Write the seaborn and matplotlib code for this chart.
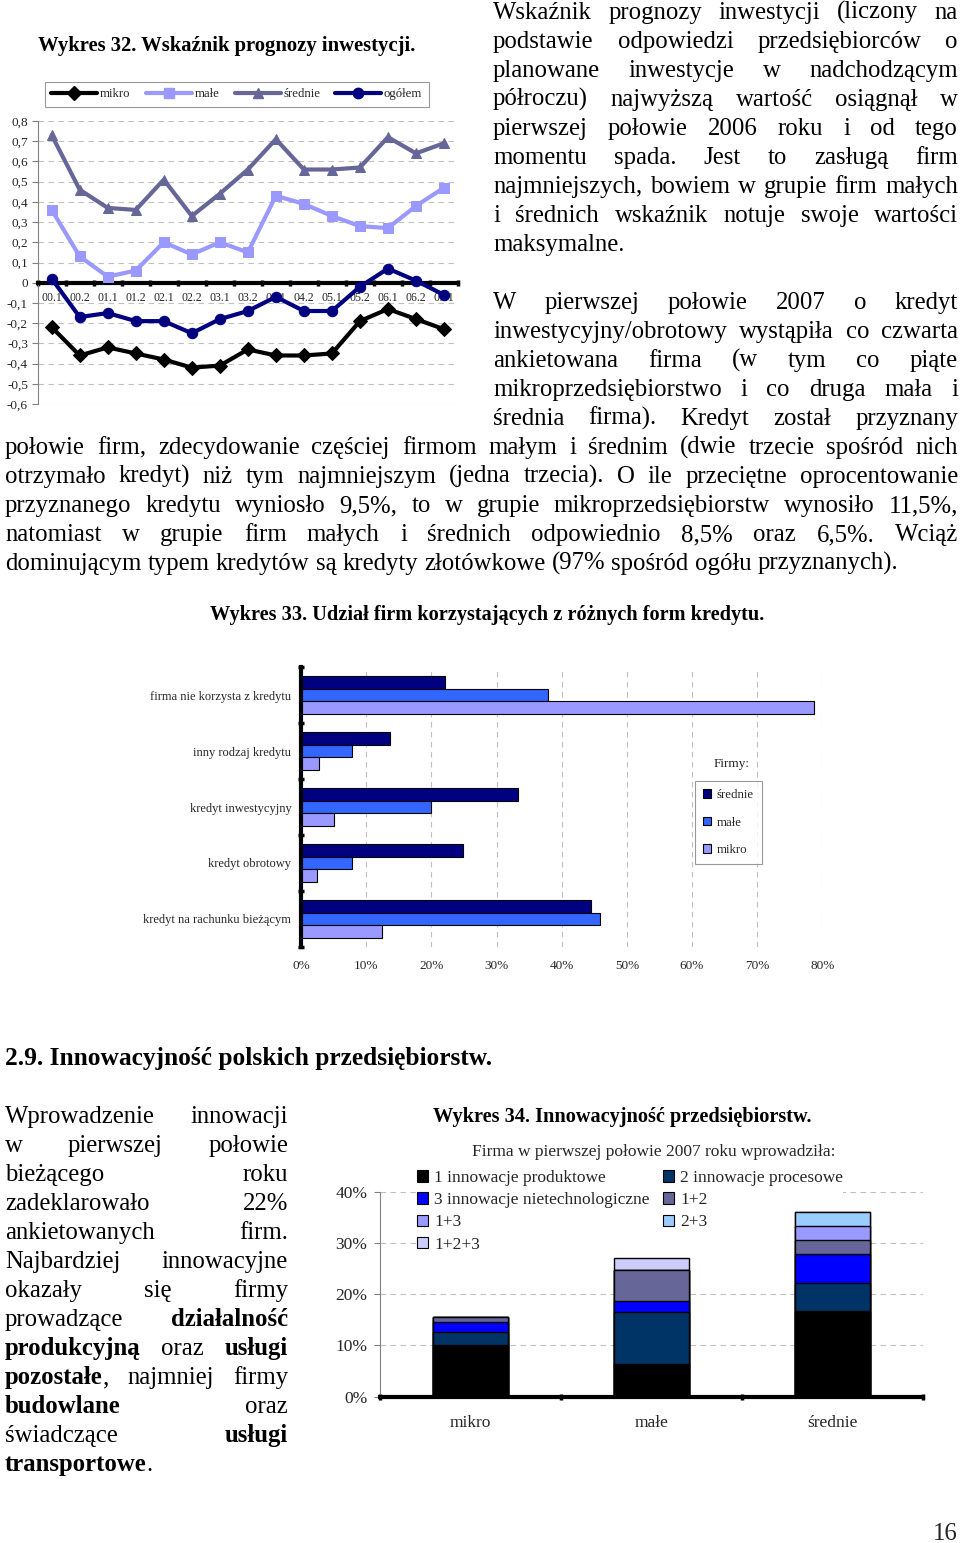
import numpy as np
import pandas as pd
import matplotlib
matplotlib.use('Agg')
import matplotlib.pyplot as plt
import seaborn as sns
from matplotlib.lines import Line2D
from matplotlib.patches import Patch

sns.set_theme(style='white')
SERIF = ['Liberation Serif', 'DejaVu Serif']
plt.rcParams['font.family'] = SERIF
plt.rcParams['axes.unicode_minus'] = False

# ---------------- data: Wykres 32 ----------------
okresy = ['00.1', '00.2', '01.1', '01.2', '02.1', '02.2', '03.1', '03.2',
          '04.1', '04.2', '05.1', '05.2', '06.1', '06.2', '07.1']
mikro = [-0.22, -0.36, -0.32, -0.35, -0.38, -0.42, -0.41, -0.33, -0.36, -0.36, -0.35, -0.19, -0.13, -0.18, -0.23]
male = [0.36, 0.13, 0.03, 0.06, 0.20, 0.14, 0.20, 0.15, 0.43, 0.39, 0.33, 0.28, 0.27, 0.38, 0.47]
srednie = [0.73, 0.46, 0.37, 0.36, 0.51, 0.33, 0.44, 0.56, 0.71, 0.56, 0.56, 0.57, 0.72, 0.64, 0.69]
ogolem = [0.02, -0.17, -0.15, -0.19, -0.19, -0.25, -0.18, -0.14, -0.07, -0.14, -0.14, -0.02, 0.07, 0.01, -0.06]
y_ticks1 = [-0.6, -0.5, -0.4, -0.3, -0.2, -0.1, 0.0, 0.1, 0.2, 0.3, 0.4, 0.5, 0.6, 0.7, 0.8]

# ---------------- data: Wykres 33 ----------------
kategorie = ['firma nie korzysta z kredytu', 'inny rodzaj kredytu', 'kredyt inwestycyjny',
             'kredyt obrotowy', 'kredyt na rachunku bieżącym']
kr_srednie = [22.1, 13.7, 33.3, 24.9, 44.5]
kr_male = [37.9, 7.8, 19.9, 7.8, 45.9]
kr_mikro = [78.7, 2.7, 5.1, 2.5, 12.4]
x_ticks2 = [0, 10, 20, 30, 40, 50, 60, 70, 80]

# ---------------- data: Wykres 34 ----------------
grupy = ['mikro', 'małe', 'średnie']
rodzaje = ['1 innowacje produktowe', '2 innowacje procesowe', '3 innowacje nietechnologiczne',
           '1+2', '1+3', '2+3', '1+2+3']
inn_1 = [10.1, 6.3, 16.7]
inn_2 = [2.6, 10.2, 5.5]
inn_3 = [1.9, 2.2, 5.6]
inn_12 = [0.9, 6.1, 2.8]
inn_13 = [0.0, 0.0, 2.7]
inn_23 = [0.0, 0.0, 2.7]
inn_123 = [0.0, 2.3, 0.0]
y_ticks3 = [0, 10, 20, 30, 40]

# ---------------- text ----------------
para1 = [
    "Wskaźnik prognozy inwestycji (liczony na",
    "podstawie odpowiedzi przedsiębiorców o",
    "planowane inwestycje w nadchodzącym",
    "półroczu) najwyższą wartość osiągnął w",
    "pierwszej połowie 2006 roku i od tego",
    "momentu spada. Jest to zasługą firm",
    "najmniejszych, bowiem w grupie firm małych",
    "i średnich wskaźnik notuje swoje wartości",
    "maksymalne.",
]
para2a = [
    "W pierwszej połowie 2007 o kredyt",
    "inwestycyjny/obrotowy wystąpiła co czwarta",
    "ankietowana firma (w tym co piąte",
    "mikroprzedsiębiorstwo i co druga mała i",
    "średnia firma). Kredyt został przyznany",
]
para2b = [
    "połowie firm, zdecydowanie częściej firmom małym i średnim (dwie trzecie spośród nich",
    "otrzymało kredyt) niż tym najmniejszym (jedna trzecia). O ile przeciętne oprocentowanie",
    "przyznanego kredytu wyniosło 9,5%, to w grupie mikroprzedsiębiorstw wynosiło 11,5%,",
    "natomiast w grupie firm małych i średnich odpowiednio 8,5% oraz 6,5%. Wciąż",
    "dominującym typem kredytów są kredyty złotówkowe (97% spośród ogółu przyznanych).",
]
para3 = [
    "Wprowadzenie innowacji",
    "w pierwszej połowie",
    "bieżącego roku",
    "zadeklarowało 22%",
    "ankietowanych firm.",
    "Najbardziej innowacyjne",
    "okazały się firmy",
    "prowadzące *działalność",
    "*produkcyjną oraz *usługi",
    "*pozostałe|, najmniej firmy",
    "*budowlane oraz",
    "świadczące *usługi",
    "*transportowe|.",
]

# ---------------- figure ----------------
W, H = 960, 1543
fig = plt.figure(figsize=(W / 100, H / 100), dpi=100)
fig.patch.set_facecolor('white')
renderer = fig.canvas.get_renderer()


def fx(x):
    return x / W


def fy(y):
    return 1 - y / H


def add_ax(x0, y0, x1, y1):
    return fig.add_axes([fx(x0), fy(y1), fx(x1) - fx(x0), fy(y0) - fy(y1)])


def measure(s, size, weight='normal'):
    t = fig.text(0, 0, s, fontsize=size, fontweight=weight)
    w = t.get_window_extent(renderer).width
    t.remove()
    return w


BODY = 17.8
BASE = 7


def parse_word(w):
    segs = []
    for part in w.split('|'):
        if part.startswith('*'):
            segs.append((part[1:], 'bold'))
        else:
            segs.append((part, 'normal'))
    return segs


def draw_line(line, x0, x1, yc, size, justify=True):
    words = [parse_word(w) for w in line.split(' ')]
    widths = [[measure(s, size, wt) for s, wt in segs] for segs in words]
    totals = [sum(ws) for ws in widths]
    space = 0.25 * size * 100 / 72
    if justify and len(words) > 1:
        gap = (x1 - x0 - sum(totals)) / (len(words) - 1)
        gap = max(gap, 0.5 * space)
    else:
        gap = space
    x = x0
    for segs, ws in zip(words, widths):
        for (s, wt), w in zip(segs, ws):
            fig.text(fx(x), fy(yc + BASE), s, fontsize=size, fontweight=wt,
                     ha='left', va='baseline', color='black')
            x += w
        x += gap


def draw_para(lines, x0, x1, y_start, pitch=29, last_justified=False, size=BODY):
    for i, ln in enumerate(lines):
        last = (i == len(lines) - 1)
        draw_line(ln, x0, x1, y_start + i * pitch, size, justify=(not last) or last_justified)


def fit_text(s, x0, x1, yc, size, weight='bold', off=6):
    w = measure(s, size, weight)
    r = min(max((x1 - x0) / w, 0.85), 1.15)
    fig.text(fx(x0), fy(yc + off), s, fontsize=size * r, fontweight=weight,
             ha='left', va='baseline', color='black')


# ---------------- body text ----------------
draw_para(para1, 493, 958, 12)
for i, ln in enumerate(para2a):
    draw_line(ln, 493, 958, 302 + i * 29, BODY, justify=True)
draw_para(para2b, 5, 958, 447)
draw_para(para3, 5, 288, 1116)
fit_text("2.9. Innowacyjność polskich przedsiębiorstw.", 5, 490, 1058, 19, 'bold', off=7)
fig.text(fx(958), fy(1540), '16', fontsize=BODY, ha='right', va='baseline')

# ---------------- Wykres 32 ----------------
fit_text("Wykres 32. Wskaźnik prognozy inwestycji.", 38, 418, 45, 14, 'bold')
ax1 = add_ax(37.7, 121, 458, 404)
df1 = pd.DataFrame({'idx': range(len(okresy)), 'mikro': mikro, 'małe': male,
                    'średnie': srednie, 'ogółem': ogolem})
long1 = df1.melt(id_vars='idx', var_name='grupa', value_name='wartosc')
pal1 = {'mikro': '#000000', 'małe': '#9999FF', 'średnie': '#666699', 'ogółem': '#000080'}
mk1 = {'mikro': 'D', 'małe': 's', 'średnie': '^', 'ogółem': 'o'}
sns.lineplot(data=long1, x='idx', y='wartosc', hue='grupa', style='grupa', palette=pal1,
             markers=mk1, dashes=False, linewidth=3, markersize=7.5, legend=False, ax=ax1, zorder=3)
for ln in ax1.lines:
    ln.set_markeredgecolor(ln.get_color())
    ln.set_zorder(3)
ax1.set_xlim(-0.5, 14.5)
ax1.set_ylim(-0.6, 0.8)
ax1.set_xlabel('')
ax1.set_ylabel('')
ax1.spines['top'].set_visible(False)
ax1.spines['right'].set_visible(False)
ax1.spines['bottom'].set_position(('data', 0))
ax1.spines['bottom'].set_linewidth(3)
ax1.spines['bottom'].set_color('black')
ax1.spines['bottom'].set_zorder(2.5)
ax1.spines['left'].set_color('#808080')
ax1.spines['left'].set_linewidth(0.8)
ax1.set_xticks(range(len(okresy)))
ax1.set_xticklabels(okresy, fontsize=8.5)
ax1.set_xticks(np.arange(-0.5, len(okresy), 1), minor=True)
ax1.tick_params(axis='x', which='major', bottom=True, length=0, pad=6.5)
ax1.tick_params(axis='x', which='minor', bottom=True, length=5, width=2.5, direction='inout', color='black')
ax1.set_yticks(y_ticks1)
ax1.set_yticklabels(['0' if v == 0 else f"{v:.1f}".replace('.', ',') for v in y_ticks1], fontsize=9.5)
ax1.tick_params(axis='y', left=True, length=4, width=0.8, color='#808080', pad=3)
ax1.yaxis.grid(True, color='#c0c0c0', linestyle=(0, (5, 4)), linewidth=0.8)
ax1.set_axisbelow(True)
h1 = [Line2D([], [], color=pal1[g], marker=mk1[g], lw=3, markersize=7.5, mec=pal1[g]) for g in pal1]
leg1 = fig.legend(h1, list(pal1.keys()), loc='upper left', bbox_to_anchor=(fx(45), fy(82)), ncol=4,
                  frameon=True, fancybox=False, edgecolor='#808080', fontsize=9.2, handlelength=3.6,
                  handletextpad=0.2, columnspacing=1.2, borderpad=0.5, borderaxespad=0)
leg1.get_frame().set_linewidth(0.8)

# ---------------- Wykres 33 ----------------
fit_text("Wykres 33. Udział firm korzystających z różnych form kredytu.", 210, 762, 614, 14, 'bold')
ax2 = add_ax(301, 667, 822.4, 947)
df2 = pd.DataFrame({'kategoria': kategorie, 'średnie': kr_srednie, 'małe': kr_male,
                    'mikro': kr_mikro}).melt(id_vars='kategoria', var_name='grupa', value_name='udzial')
pal2 = {'średnie': '#000080', 'małe': '#3366FF', 'mikro': '#9999FF'}
sns.barplot(data=df2, y='kategoria', x='udzial', hue='grupa', hue_order=list(pal2.keys()),
            order=kategorie, orient='h', palette=pal2, saturation=1, width=0.68, gap=0,
            edgecolor='black', linewidth=0.8, errorbar=None, legend=False, ax=ax2)
ax2.set_xlim(0, 80)
ax2.set_ylim(len(kategorie) - 0.5, -0.5)
ax2.set_xlabel('')
ax2.set_ylabel('')
for s in ['top', 'right', 'bottom']:
    ax2.spines[s].set_visible(False)
ax2.spines['left'].set_linewidth(3)
ax2.spines['left'].set_color('black')
ax2.set_xticks(x_ticks2)
ax2.set_xticklabels([f"{v}%" for v in x_ticks2], fontsize=9.5)
ax2.tick_params(axis='x', bottom=False, length=0, pad=9.5)
ax2.set_yticks(range(len(kategorie)))
ax2.set_yticklabels(kategorie, fontsize=9)
ax2.set_yticks(np.arange(-0.5, len(kategorie), 1), minor=True)
ax2.tick_params(axis='y', which='major', left=False, length=0, pad=7)
ax2.tick_params(axis='y', which='minor', left=True, length=5, width=2.5, direction='inout', color='black')
ax2.xaxis.grid(True, color='#c0c0c0', linestyle=(0, (5, 4)), linewidth=0.8)
ax2.set_axisbelow(True)
fig.text(fx(732), fy(767), 'Firmy:', fontsize=9.5, ha='center', va='baseline')
h2 = [Patch(facecolor=pal2[g], edgecolor='black', linewidth=0.8) for g in pal2]
leg2 = fig.legend(h2, list(pal2.keys()), loc='upper left', bbox_to_anchor=(fx(695), fy(781)),
                  frameon=True, fancybox=False, edgecolor='#808080', fontsize=9.3, handlelength=0.65,
                  handleheight=0.65, handletextpad=0.45, labelspacing=1.22, borderpad=0.6, borderaxespad=0)
leg2.get_frame().set_linewidth(0.8)

# ---------------- Wykres 34 ----------------
fit_text("Wykres 34. Innowacyjność przedsiębiorstw.", 433, 811, 1116, 14, 'bold')
fig.text(fx(654), fy(1156), 'Firma w pierwszej połowie 2007 roku wprowadziła:', fontsize=12.5,
         ha='center', va='baseline')
ax3 = add_ax(380, 1191.7, 923, 1396.7)
layers = [inn_1, inn_2, inn_3, inn_12, inn_13, inn_23, inn_123]
cols3 = ['#000000', '#003366', '#0000FF', '#666699', '#9999FF', '#99CCFF', '#CCCCFF']
cum = np.cumsum(np.array(layers), axis=0)
for i in range(len(layers) - 1, -1, -1):
    sns.barplot(x=grupy, y=cum[i], color=cols3[i], saturation=1, width=0.41, edgecolor='black',
                linewidth=1, errorbar=None, ax=ax3)
for p in ax3.patches:
    p.set_zorder(2)
ax3.set_xlim(-0.5, len(grupy) - 0.5)
ax3.set_ylim(0, 40)
ax3.set_xlabel('')
ax3.set_ylabel('')
ax3.spines['top'].set_visible(False)
ax3.spines['right'].set_visible(False)
ax3.spines['bottom'].set_linewidth(3)
ax3.spines['bottom'].set_color('black')
ax3.spines['bottom'].set_zorder(3)
ax3.spines['left'].set_color('#808080')
ax3.spines['left'].set_linewidth(0.8)
ax3.set_xticks(range(len(grupy)))
ax3.set_xticklabels(grupy, fontsize=12.5)
ax3.set_xticks(np.arange(-0.5, len(grupy), 1), minor=True)
ax3.tick_params(axis='x', which='major', bottom=False, length=0, pad=13)
ax3.tick_params(axis='x', which='minor', bottom=True, length=5, width=2.5, direction='inout', color='black')
ax3.set_yticks(y_ticks3)
ax3.set_yticklabels([f"{v}%" for v in y_ticks3], fontsize=12.5)
ax3.tick_params(axis='y', left=True, length=4, width=0.8, color='#808080', pad=5)
ax3.yaxis.grid(True, color='#c0c0c0', linestyle=(0, (5, 4)), linewidth=0.8)
for gl in ax3.get_ygridlines():
    gl.set_zorder(0.5)
h3 = [Patch(facecolor=c, edgecolor='black', linewidth=0.8) for c in cols3]
order3 = [0, 2, 4, 6, 1, 3, 5]
leg3 = ax3.legend([h3[i] for i in order3], [rodzaje[i] for i in order3], ncol=2, loc='upper left',
                  bbox_to_anchor=(fx(417), fy(1170)), bbox_transform=fig.transFigure,
                  frameon=True, facecolor='white', edgecolor='none',
                  framealpha=1, fancybox=False, fontsize=12.5, handlelength=0.65, handleheight=0.65,
                  handletextpad=0.35, labelspacing=0.36, columnspacing=0.75, borderpad=0, borderaxespad=0)
leg3.set_zorder(1)

fig.savefig('out.png', dpi=100, facecolor='white')
